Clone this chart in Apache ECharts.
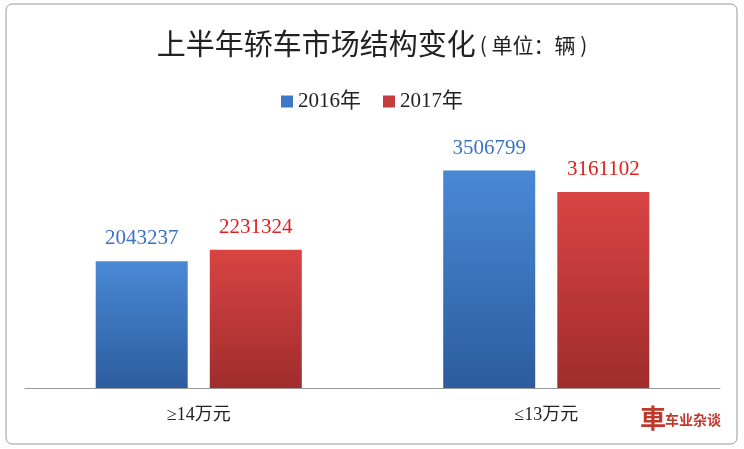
<!DOCTYPE html>
<html><head><meta charset="utf-8">
<script src="https://cdn.jsdelivr.net/npm/echarts@6/dist/echarts.min.js"></script>
<style>html,body{margin:0;padding:0;background:#fff}#c{width:744px;height:449px}</style>
</head><body><div id="c"></div>
<script>
const categories = ['≥14万元', '≤13万元'];
const seriesNames = ['2016年', '2017年'];
const values2016 = [2043237, 3506799];
const values2017 = [2231324, 3161102];

const chart = echarts.init(document.getElementById('c'));
const serif = '"Liberation Serif","Noto Sans CJK SC",serif';

function grad(top, bottom) {
    return new echarts.graphic.LinearGradient(0, 0, 0, 1, [
        { offset: 0, color: top }, { offset: 1, color: bottom }
    ]);
}

chart.setOption({
    animation: false,
    title: {
        text: '{a|上半年轿车市场结构变化}{b|( 单位：辆 )}',
        left: 'center', top: 24,
        textStyle: {
            fontWeight: 'normal',
            rich: {
                a: { fontFamily: '"Noto Sans CJK SC"', fontSize: 29, fontWeight: 'normal', color: '#222' },
                b: { fontFamily: '"Noto Sans CJK SC"', fontSize: 21, fontWeight: 'normal', color: '#222', padding: [4, 0, 0, 4] }
            }
        }
    },
    graphic: [
        { type: 'rect', shape: { x: 6, y: 4, width: 731, height: 440, r: 6 }, style: { fill: 'none', stroke: '#999', lineWidth: 1 } },
        { type: 'text', left: 640, top: 405, style: { text: '車', font: 'bold 26px "Noto Sans CJK SC"', fill: '#c0392b' } },
        { type: 'text', left: 665, top: 413, style: { text: '车业杂谈', font: 'bold 14px "Noto Sans CJK SC"', fill: '#c0392b' } }
    ],
    legend: {
        top: 86, left: 'center', icon: 'rect', itemWidth: 12, itemHeight: 12, itemGap: 22,
        textStyle: { fontFamily: serif, fontSize: 21, color: '#222' },
        data: [{ name: seriesNames[0], itemStyle: { color: '#3f78c8' } }, { name: seriesNames[1], itemStyle: { color: '#c43c3c' } }]
    },
    grid: { left: 25, right: 24, top: 140, bottom: 61 },
    xAxis: {
        type: 'category', data: categories,
        axisLine: { lineStyle: { color: '#999' } }, axisTick: { show: false },
        axisLabel: { fontFamily: serif, fontSize: 18, color: '#222', margin: 18 }
    },
    yAxis: { type: 'value', min: 0, max: 4000000, show: false, splitLine: { show: false } },
    series: [
        {
            name: seriesNames[0], type: 'bar', data: values2016, barWidth: 92, barGap: '24%',
            itemStyle: { color: grad('#4a88d6', '#2c5c9e') },
            label: { show: true, position: 'top', distance: 12, fontFamily: serif, fontSize: 21, color: '#3a72c6' }
        },
        {
            name: seriesNames[1], type: 'bar', data: values2017, barWidth: 92,
            itemStyle: { color: grad('#d94444', '#a02c2c') },
            label: { show: true, position: 'top', distance: 12, fontFamily: serif, fontSize: 21, color: '#e01e1e' }
        }
    ]
});
</script></body></html>
